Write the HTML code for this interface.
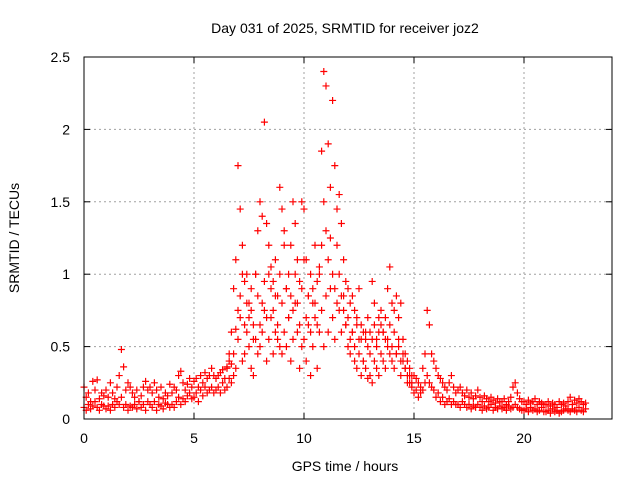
<!DOCTYPE html>
<html><head><meta charset="utf-8">
<style>
html,body{margin:0;padding:0;background:#fff;}
svg{display:block;font-family:"Liberation Sans",sans-serif;}
</style></head>
<body>
<svg id="chart" width="640" height="480" viewBox="0 0 640 480">
<rect width="640" height="480" fill="#fff"/>
<text x="345" y="33" font-size="14" text-anchor="middle" fill="#000">Day 031 of 2025, SRMTID for receiver joz2</text>
<text x="345" y="471" font-size="14" text-anchor="middle" fill="#000">GPS time / hours</text>
<text transform="translate(19,238) rotate(-90)" font-size="14" text-anchor="middle" fill="#000">SRMTID / TECUs</text>
<g id="grid"></g>
<g id="ticks"></g>
<g id="marks"></g>
<rect x="84" y="57" width="528" height="362" fill="none" stroke="#000" stroke-width="1"/>
</svg>
<script>
const xTicks = [0, 5, 10, 15, 20];
const yTicks = [0, 0.5, 1, 1.5, 2, 2.5];
const yTickLabels = ["0", "0.5", "1", "1.5", "2", "2.5"];
const timeStep = [0.1];
const seriesAStart = [0];
const seriesA = [
.08,.06,.10,.07,.09,.12,.08,.06,.10,.09,
.07,.09,.06,.10,.08,.12,.10,.15,.08,.10,
.06,.09,.08,.10,.07,.12,.08,.10,.06,.12,
.10,.08,.12,.06,.10,.09,.07,.11,.10,.08,
.10,.08,.12,.15,.10,.14,.12,.16,.18,.14,
.15,.18,.12,.20,.16,.22,.18,.20,.22,.18,
.20,.22,.18,.25,.20,.22,.28,.25,.30,.35,
.55,.70,.40,.45,.60,.50,.35,.30,.55,.45,
.50,.60,.75,.40,.55,.70,.45,.60,.55,.50,
.45,.60,.50,.70,.40,.55,.80,.60,.35,.50,
.55,.40,.65,.30,.50,.70,.35,.60,.75,.50,
.85,.60,.90,.70,.55,.80,.75,.60,.85,.65,
.50,.45,.60,.40,.35,.55,.30,.40,.35,.28,
.30,.25,.40,.35,.30,.45,.40,.35,.50,.45,
.40,.35,.45,.50,.30,.40,.35,.25,.30,.22,
.18,.20,.15,.18,.20,.25,.30,.25,.22,.20,
.15,.18,.12,.15,.10,.12,.14,.10,.12,.10,
.10,.08,.12,.10,.08,.10,.07,.09,.08,.10,
.08,.06,.09,.07,.08,.10,.06,.08,.07,.09,
.07,.08,.06,.09,.07,.08,.10,.08,.07,.06,
.06,.07,.05,.08,.06,.07,.05,.06,.08,.05,
.05,.06,.04,.07,.05,.06,.04,.05,.06,.07,
.06,.05,.07,.06,.05,.08,.06,.05,.07];
const seriesBStart = [0];
const seriesB = [
.22,.15,.18,.12,.26,.20,.27,.14,.18,.16,
.20,.15,.25,.18,.14,.22,.30,.48,.36,.20,
.25,.22,.18,.15,.20,.12,.16,.22,.26,.20,
.22,.18,.25,.20,.15,.22,.14,.18,.16,.24,
.18,.22,.20,.30,.33,.25,.20,.24,.28,.22,
.26,.28,.22,.30,.25,.32,.28,.30,.35,.30,
.28,.30,.32,.34,.28,.36,.40,.38,.45,.62,
1.75,1.45,1.20,.95,1.00,.80,.75,.65,1.00,1.30,
1.50,1.40,2.05,1.35,1.20,1.05,.95,1.10,.85,1.60,
1.45,1.20,.90,1.00,1.20,1.50,1.35,1.10,.95,1.50,
1.45,1.10,.85,1.00,.80,1.20,.95,1.05,1.85,2.40,
2.30,1.90,1.60,2.20,1.75,1.45,1.55,1.35,1.10,.95,
.90,.80,.85,.75,.70,.90,.65,.60,.55,.70,
.60,.95,.80,.55,.70,.65,.60,.55,.90,1.05,
.80,.75,.85,.70,.80,.55,.45,.40,.35,.30,
.30,.28,.25,.22,.35,.45,.75,.65,.45,.40,
.35,.30,.28,.25,.22,.20,.25,.30,.22,.18,
.20,.22,.18,.16,.20,.15,.18,.14,.16,.20,
.15,.12,.16,.14,.12,.15,.13,.11,.14,.12,
.12,.14,.10,.12,.15,.22,.25,.18,.14,.12,
.12,.10,.13,.11,.12,.14,.10,.12,.11,.10,
.10,.12,.09,.11,.10,.08,.12,.10,.11,.09,
.12,.15,.10,.13,.11,.14,.12,.10,.11];
const seriesCStart = [6.5];
const seriesC = [
.35,.45,.60,.90,1.10,.75,.85,1.00,.65,.80,
.70,.90,.55,1.00,.85,.65,.80,.95,.70,1.00,
.90,.75,.85,.65,1.00,.80,1.30,.90,.70,.85,
.75,1.00,.80,.65,.90,1.10,.70,.85,.60,.90,
.80,.65,1.00,1.20,1.50,1.30,1.10,1.25,1.00,.90,
1.20,1.00,.85,.75,.65,.70,.55,.60,.50,.65,
.45,.55,.40,.60,.50,.45,.55,.65,.50,.60,
.75,.60,.70,.55,.65,.50,.60,.45,.55,.40,
.45,.35,.30,.25,.25];

const X0=84, X1=612, Y0=419, Y1=57, XMAX=24, YMAX=2.5;
function xs(t){return X0+(t/XMAX)*(X1-X0);}
function ys(v){return Y0-(v/YMAX)*(Y0-Y1);}
const NS="http://www.w3.org/2000/svg";
const grid=document.getElementById('grid'), ticks=document.getElementById('ticks'), marks=document.getElementById('marks');
function mk(tag,attrs,parent){const e=document.createElementNS(NS,tag);for(const k in attrs)e.setAttribute(k,attrs[k]);parent.appendChild(e);return e;}

xTicks.forEach(function(t){
  const x=xs(t);
  if(t>0){const g=mk('line',{x1:x,y1:Y0,x2:x,y2:Y1,stroke:'#a0a0a0','stroke-dasharray':'2,3'},grid);
  
  }
  const tk=mk('line',{x1:x,y1:Y0,x2:x,y2:Y0-6,stroke:'#000'},ticks);
  
  
  const tk2=mk('line',{x1:x,y1:Y1,x2:x,y2:Y1+6,stroke:'#000'},ticks);
  
  
  const l=mk('text',{x:x,y:Y0+24,'font-size':14,'text-anchor':'middle',fill:'#000'},ticks);
  l.textContent=String(t);
  
  
});
yTicks.forEach(function(v,i){
  const y=ys(v);
  if(v>0&&v<YMAX){const g=mk('line',{x1:X0,y1:y,x2:X1,y2:y,stroke:'#a0a0a0','stroke-dasharray':'2,3'},grid);
  
  }
  const tk=mk('line',{x1:X0,y1:y,x2:X0+6,y2:y,stroke:'#000'},ticks);
  
  
  const tk2=mk('line',{x1:X1,y1:y,x2:X1-6,y2:y,stroke:'#000'},ticks);
  
  
  const l=mk('text',{x:X0-14,y:y+5,'font-size':14,'text-anchor':'end',fill:'#000'},ticks);
  l.textContent=yTickLabels[i];
  
  
});
function plus(t,v){
  const x=xs(t), y=ys(v);
  const p=mk('path',{d:'M'+(x-3.5)+' '+y+'H'+(x+3.5)+'M'+x+' '+(y-3.5)+'V'+(y+3.5),stroke:'#ff0000','stroke-width':1.2,fill:'none'},marks);
  
  
}
function drawSeries(arr,start){arr.forEach(function(v,i){plus(start+i*timeStep[0],v);});}
drawSeries(seriesA,seriesAStart[0]);
drawSeries(seriesB,seriesBStart[0]);
drawSeries(seriesC,seriesCStart[0]);
</script>
</body></html>
